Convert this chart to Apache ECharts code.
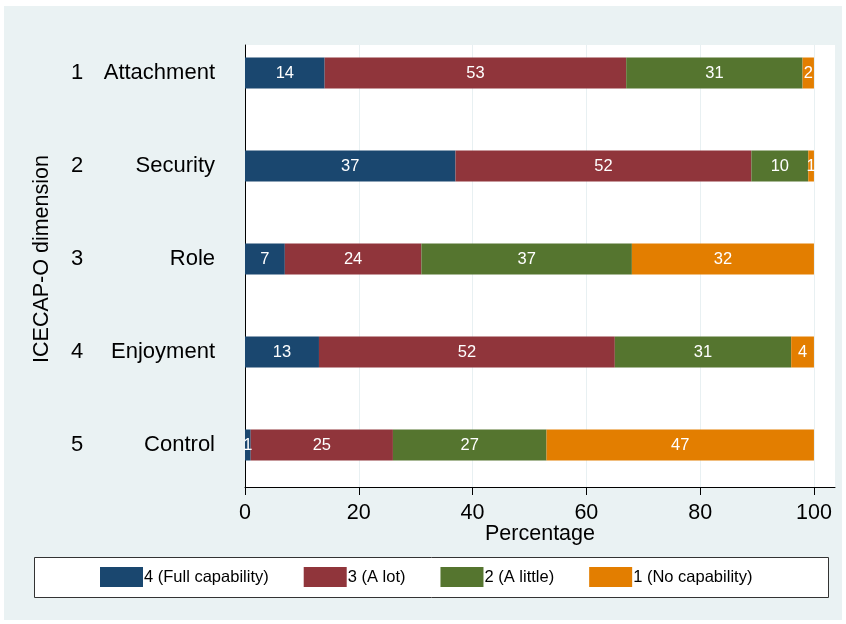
<!DOCTYPE html>
<html>
<head>
<meta charset="utf-8">
<script src="https://cdn.jsdelivr.net/npm/echarts@6/dist/echarts.min.js"></script>
<style>
html,body{margin:0;padding:0;background:#fff;}
#wrap{position:relative;width:846px;height:624px;background:#fff;}
#bg{position:absolute;left:4px;top:6px;width:838px;height:614px;background:#EAF2F3;}
#chart{position:absolute;left:0;top:0;width:846px;height:624px;}
</style>
</head>
<body>
<div id="wrap"><div id="bg"></div><div id="chart"></div></div>
<script>
const categories = ['Attachment', 'Security', 'Role', 'Enjoyment', 'Control'];
const dimNumbers = ['1', '2', '3', '4', '5'];
const seriesNames = ['4 (Full capability)', '3 (A lot)', '2 (A little)', '1 (No capability)'];
const fullCapability = [14, 37, 7, 13, 1];
const aLot = [53, 52, 24, 52, 25];
const aLittle = [31, 10, 37, 31, 27];
const noCapability = [2, 1, 32, 4, 47];
const xTicks = [0, 20, 40, 60, 80, 100];
const colors = ['#1A476F', '#90353B', '#55752F', '#E37E00'];

const FONT = "'Liberation Sans', Arial, sans-serif";
const XMAX = 103.7;
const seriesValues = [fullCapability, aLot, aLittle, noCapability];

const chart = echarts.init(document.getElementById('chart'), null, {renderer: 'canvas'});
const option = {
  animation: false,
  textStyle: {fontFamily: FONT},
  grid: [
    {left: 245, right: 11, top: 45, bottom: 137, show: true, backgroundColor: '#ffffff', borderWidth: 0, containLabel: false},
    {left: 245, right: 11, top: 26.5, bottom: 132.5, containLabel: false}
  ],
  xAxis: [
    {
      gridIndex: 0, type: 'value', min: 0, max: XMAX, interval: 20,
      name: 'Percentage', nameLocation: 'middle', nameGap: 36, nameMoveOverlap: false,
      nameTextStyle: {fontSize: 21.5, color: '#000', fontFamily: FONT},
      axisLine: {show: true, onZero: false, lineStyle: {color: '#000', width: 1}},
      axisTick: {show: true, length: 8, lineStyle: {color: '#000'}, customValues: xTicks},
      axisLabel: {fontSize: 21.5, color: '#000', margin: 15, fontFamily: FONT, customValues: xTicks},
      splitLine: {show: true, lineStyle: {color: '#E8F0F2', width: 1}}
    },
    {
      gridIndex: 1, type: 'value', min: 0, max: XMAX, show: false,
      splitLine: {show: false}
    }
  ],
  yAxis: [
    {
      gridIndex: 0, type: 'value', min: 0, max: 1,
      axisLine: {show: true, lineStyle: {color: '#000', width: 1}},
      axisTick: {show: false}, axisLabel: {show: false}, splitLine: {show: false}
    },
    {
      gridIndex: 1, type: 'category', data: categories, inverse: true,
      name: 'ICECAP-O dimension', nameLocation: 'middle', nameGap: 192, nameMoveOverlap: false,
      nameTextStyle: {fontSize: 21.5, color: '#000', fontFamily: FONT},
      axisLine: {show: false}, axisTick: {show: false},
      axisLabel: {
        margin: 30, fontSize: 22, color: '#000', fontFamily: FONT,
        formatter: function (v, i) { return '{n|' + dimNumbers[i] + '}{t|' + v + '}'; },
        rich: {
          n: {width: 20, align: 'left', fontSize: 22, color: '#000', fontFamily: FONT},
          t: {width: 124, align: 'right', fontSize: 22, color: '#000', fontFamily: FONT}
        }
      }
    }
  ],
  legend: {
    left: 100, top: 567, padding: 0, itemGap: 35,
    itemWidth: 43, itemHeight: 20, icon: 'rect',
    textStyle: {fontSize: 16.5, color: '#000', fontFamily: FONT, padding: [0, 0, 0, -4]},
    data: seriesNames
  },
  graphic: [
    {type: 'rect', z: -1, shape: {x: 34.5, y: 557.5, width: 794, height: 40},
     style: {fill: '#ffffff', stroke: '#333', lineWidth: 1}}
  ],
  series: seriesNames.map(function (name, k) {
    return {
      name: name, type: 'bar', stack: 'total', xAxisIndex: 1, yAxisIndex: 1,
      barWidth: 31, data: seriesValues[k],
      itemStyle: {color: colors[k]},
      label: {show: true, position: 'inside', color: '#fff', fontSize: 16.5, fontFamily: FONT},
      emphasis: {disabled: true}
    };
  })
};
chart.setOption(option);
</script>
</body>
</html>
